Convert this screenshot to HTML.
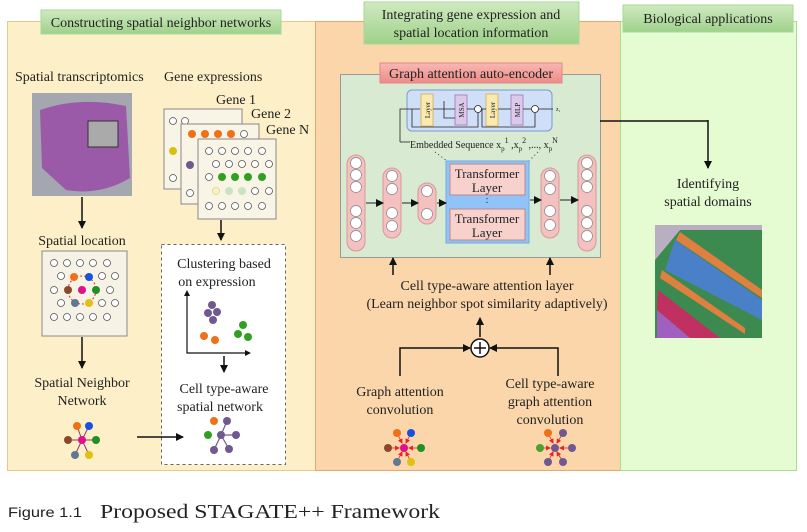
<!DOCTYPE html>
<html><head><meta charset="utf-8"><style>
body{margin:0;background:#fff;width:807px;height:532px;overflow:hidden}
svg{display:block}
text{font-family:"Liberation Serif",serif;fill:#222}
</style></head><body>
<svg width="807" height="532" viewBox="0 0 807 532" xmlns="http://www.w3.org/2000/svg">
<defs>
<marker id="ar" markerWidth="8" markerHeight="8" refX="7" refY="4" orient="auto" markerUnits="userSpaceOnUse"><path d="M0,0 L8,4 L0,8 Z" fill="#111"/></marker>
<marker id="ar2" markerWidth="5" markerHeight="5" refX="4" refY="2.5" orient="auto" markerUnits="userSpaceOnUse"><path d="M0,0 L5,2.5 L0,5 Z" fill="#e22"/></marker>
<linearGradient id="gh" x1="0" y1="0" x2="0" y2="1"><stop offset="0" stop-color="#cfeac0"/><stop offset="1" stop-color="#9fd18a"/></linearGradient>
<linearGradient id="rh" x1="0" y1="0" x2="0" y2="1"><stop offset="0" stop-color="#f7b8b4"/><stop offset="1" stop-color="#ee8a86"/></linearGradient>
</defs>
<!-- panels -->
<rect x="7.5" y="21.5" width="308" height="449" fill="#fdefc8" stroke="#e8c98a"/>
<rect x="315.5" y="21.5" width="305" height="449" fill="#fad6aa" stroke="#e2a96a"/>
<rect x="620.5" y="21.5" width="176" height="449" fill="#e5fbd2" stroke="#a8dc90"/>
<!-- headers -->
<rect x="41" y="10" width="240" height="24" fill="url(#gh)" stroke="#a8d898"/>
<text x="161" y="27" font-size="14" text-anchor="middle">Constructing spatial neighbor networks</text>
<rect x="364" y="2" width="215" height="42" fill="url(#gh)" stroke="#a8d898"/>
<text x="471" y="19" font-size="14" text-anchor="middle">Integrating gene expression and</text>
<text x="471" y="37" font-size="14" text-anchor="middle">spatial location information</text>
<rect x="623" y="5" width="170" height="27" fill="url(#gh)" stroke="#a8d898"/>
<text x="708" y="23" font-size="14" text-anchor="middle">Biological applications</text>

<!-- LEFT -->
<text x="15" y="81" font-size="14">Spatial transcriptomics</text>
<text x="164" y="81" font-size="14">Gene expressions</text>
<rect x="32" y="93" width="100" height="103" fill="#a4a6b0"/>
<path d="M40,110 Q80,96 126,106 L130,178 Q100,196 66,190 L42,168 Z" fill="#9a5aa8"/>
<rect x="88" y="121" width="30" height="26" fill="#aaa" stroke="#333"/>
<line x1="82" y1="197" x2="82" y2="228" stroke="#111" stroke-width="1.5" marker-end="url(#ar)"/>
<text x="82" y="245" font-size="14" text-anchor="middle">Spatial location</text>
<rect x="42" y="251" width="85" height="85" fill="#f6f3e6" stroke="#888"/>
<g fill="#fff" stroke="#555" stroke-width="0.8">
<circle cx="54" cy="263" r="3.5"/><circle cx="67" cy="263" r="3.5"/><circle cx="80" cy="263" r="3.5"/><circle cx="93" cy="263" r="3.5"/><circle cx="107" cy="263" r="3.5"/>
<circle cx="61" cy="276" r="3.5"/><circle cx="102" cy="276" r="3.5"/><circle cx="115" cy="276" r="3.5"/>
<circle cx="54" cy="290" r="3.5"/><circle cx="110" cy="290" r="3.5"/>
<circle cx="61" cy="303" r="3.5"/><circle cx="102" cy="303" r="3.5"/><circle cx="115" cy="303" r="3.5"/>
<circle cx="54" cy="317" r="3.5"/><circle cx="67" cy="317" r="3.5"/><circle cx="80" cy="317" r="3.5"/><circle cx="93" cy="317" r="3.5"/><circle cx="107" cy="317" r="3.5"/>
</g>
<circle cx="82" cy="290" r="14" fill="none" stroke="#e22" stroke-dasharray="2,2"/>
<circle cx="74" cy="277" r="4" fill="#f07018"/><circle cx="89" cy="277" r="4" fill="#1850e0"/>
<circle cx="68" cy="290" r="4" fill="#8a4a2a"/><circle cx="82" cy="290" r="4" fill="#e0108a"/><circle cx="96" cy="290" r="4" fill="#209020"/>
<circle cx="75" cy="303" r="4" fill="#607890"/><circle cx="89" cy="303" r="4" fill="#e0c010"/>
<line x1="82" y1="337" x2="82" y2="368" stroke="#111" stroke-width="1.5" marker-end="url(#ar)"/>
<text x="82" y="387" font-size="14" text-anchor="middle">Spatial Neighbor</text>
<text x="82" y="405" font-size="14" text-anchor="middle">Network</text>
<g stroke="#8a3a6a" stroke-width="1">
<line x1="82" y1="440" x2="77" y2="426"/><line x1="82" y1="440" x2="89" y2="426"/><line x1="82" y1="440" x2="68" y2="440"/><line x1="82" y1="440" x2="96" y2="440"/><line x1="82" y1="440" x2="75" y2="455"/><line x1="82" y1="440" x2="89" y2="455"/></g>
<circle cx="77" cy="426" r="4" fill="#f07018"/><circle cx="89" cy="426" r="4" fill="#1850e0"/><circle cx="68" cy="440" r="4" fill="#8a4a2a"/><circle cx="82" cy="440" r="4" fill="#e0108a"/><circle cx="96" cy="440" r="4" fill="#209020"/><circle cx="75" cy="455" r="4" fill="#607890"/><circle cx="89" cy="455" r="4" fill="#e0c010"/>

<!-- gene cards -->
<text x="216" y="104" font-size="14">Gene 1</text>
<text x="251" y="118" font-size="14">Gene 2</text>
<text x="266" y="134" font-size="14">Gene N</text>
<rect x="164" y="109" width="78" height="80" fill="#f8f5e6" stroke="#888"/>
<g fill="#fff" stroke="#555" stroke-width="0.8"><circle cx="173" cy="121" r="3.5"/><circle cx="185" cy="121" r="3.5"/><circle cx="173" cy="178" r="3.5"/></g>
<circle cx="173" cy="151" r="4" fill="#d8c010"/>
<rect x="181" y="124" width="78" height="80" fill="#f8f5e6" stroke="#888"/>
<g fill="#f07018"><circle cx="192" cy="134" r="4"/><circle cx="205" cy="134" r="4"/><circle cx="218" cy="134" r="4"/><circle cx="231" cy="134" r="4"/></g>
<circle cx="244" cy="134" r="3.5" fill="#fff" stroke="#555" stroke-width="0.8"/>
<circle cx="190" cy="165" r="4" fill="#705890"/><circle cx="190" cy="193" r="3.5" fill="#fff" stroke="#555" stroke-width="0.8"/>
<rect x="198" y="139" width="78" height="80" fill="#f8f5e6" stroke="#888"/>
<g fill="#fff" stroke="#555" stroke-width="0.8">
<circle cx="209" cy="151" r="3.5"/><circle cx="222" cy="151" r="3.5"/><circle cx="235" cy="151" r="3.5"/><circle cx="248" cy="151" r="3.5"/><circle cx="262" cy="151" r="3.5"/>
<circle cx="216" cy="164" r="3.5"/><circle cx="229" cy="164" r="3.5"/><circle cx="242" cy="164" r="3.5"/><circle cx="255" cy="164" r="3.5"/><circle cx="269" cy="164" r="3.5"/>
<circle cx="209" cy="177" r="3.5"/>
<circle cx="255" cy="191" r="3.5"/><circle cx="269" cy="191" r="3.5"/>
<circle cx="209" cy="206" r="3.5"/><circle cx="222" cy="206" r="3.5"/><circle cx="235" cy="206" r="3.5"/><circle cx="248" cy="206" r="3.5"/><circle cx="262" cy="206" r="3.5"/>
</g>
<g fill="#30a020"><circle cx="222" cy="177" r="4"/><circle cx="235" cy="177" r="4"/><circle cx="248" cy="177" r="4"/><circle cx="262" cy="177" r="4"/></g>
<circle cx="216" cy="191" r="3.5" fill="#fbf0c8" stroke="#e0d080" stroke-width="0.8"/><circle cx="229" cy="191" r="4" fill="#c8e4c0"/><circle cx="242" cy="191" r="4" fill="#c8e4c0"/>
<line x1="221" y1="220" x2="221" y2="240" stroke="#111" stroke-width="1.5" marker-end="url(#ar)"/>
<rect x="161.5" y="244.5" width="124" height="220" fill="#fff" stroke="#666" stroke-dasharray="3,3"/>
<line x1="137" y1="437" x2="183" y2="437" stroke="#111" stroke-width="1.5" marker-end="url(#ar)"/>
<text x="224" y="268" font-size="14" text-anchor="middle">Clustering based</text>
<text x="217" y="286" font-size="14" text-anchor="middle">on expression</text>
<polyline points="187,294 187,353 248,353" fill="none" stroke="#111" stroke-width="1.2"/>
<path d="M184,296 L187,290 L190,296Z M245,350 L251,353 L245,356Z" fill="#111"/>
<g fill="#705890"><circle cx="212" cy="305" r="4"/><circle cx="208" cy="313" r="4"/><circle cx="217" cy="312" r="4"/><circle cx="213" cy="320" r="4"/></g>
<g fill="#f07018"><circle cx="204" cy="336" r="4"/><circle cx="215" cy="340" r="4"/></g>
<g fill="#30a020"><circle cx="243" cy="325" r="4"/><circle cx="238" cy="334" r="4"/><circle cx="248" cy="337" r="4"/></g>
<line x1="224" y1="356" x2="224" y2="372" stroke="#111" stroke-width="1.5" marker-end="url(#ar)"/>
<text x="224" y="393" font-size="14" text-anchor="middle">Cell type-aware</text>
<text x="220" y="411" font-size="14" text-anchor="middle">spatial network</text>
<g stroke="#705890" stroke-width="1.2"><line x1="221" y1="435" x2="227" y2="421"/><line x1="221" y1="435" x2="236" y2="435"/><line x1="221" y1="435" x2="214" y2="450"/><line x1="221" y1="435" x2="229" y2="449"/></g>
<circle cx="214" cy="421" r="4" fill="#f07018"/><circle cx="227" cy="421" r="4" fill="#705890"/><circle cx="208" cy="435" r="4" fill="#30a020"/><circle cx="221" cy="435" r="4" fill="#705890"/><circle cx="236" cy="435" r="4" fill="#705890"/><circle cx="214" cy="450" r="4" fill="#705890"/><circle cx="229" cy="449" r="4" fill="#705890"/>

<!-- MIDDLE -->
<rect x="340.5" y="74.5" width="260" height="183" fill="#d8ead2" stroke="#999"/>
<rect x="380" y="63" width="182" height="20" fill="url(#rh)" stroke="#e08888"/>
<text x="471" y="78" font-size="14" text-anchor="middle">Graph attention auto-encoder</text>
<rect x="407" y="90" width="145" height="41" rx="5" fill="#cfdff8" stroke="#7a9ad0"/>
<rect x="421" y="94" width="12" height="32" fill="#fbeab0" stroke="#d8b860"/>
<rect x="455" y="95" width="12" height="30" fill="#dcc8e8" stroke="#a888c0"/>
<rect x="486" y="94" width="12" height="32" fill="#fbeab0" stroke="#d8b860"/>
<rect x="511" y="95" width="12" height="30" fill="#dcc8e8" stroke="#a888c0"/>
<text transform="translate(430,110) rotate(-90)" font-size="7" text-anchor="middle">Layer</text>
<text transform="translate(464,110) rotate(-90)" font-size="7" text-anchor="middle">MSA</text>
<text transform="translate(495,110) rotate(-90)" font-size="7" text-anchor="middle">Layer</text>
<text transform="translate(520,110) rotate(-90)" font-size="7" text-anchor="middle">MLP</text>
<g stroke="#222" stroke-width="0.8" fill="none">
<circle cx="478" cy="109" r="3.5" fill="#fff"/><circle cx="535" cy="109" r="3.5" fill="#fff"/>
<polyline points="400,142 400,109 420,109"/><line x1="433" y1="109" x2="455" y2="109"/><polyline points="444,101 444,118 455,118"/><line x1="467" y1="109" x2="474" y2="109"/>
<line x1="482" y1="109" x2="486" y2="109"/><line x1="498" y1="109" x2="511" y2="109"/><line x1="523" y1="109" x2="531" y2="109"/><line x1="539" y1="109" x2="553" y2="109"/>
<polyline points="412,109 412,127 478,127 478,113"/><polyline points="482,109 482,127 535,127 535,113"/>
</g>
<text x="556" y="111" font-size="6">z₁</text>
<line x1="400" y1="142" x2="410" y2="142" stroke="#222" stroke-width="0.8"/>
<text x="410" y="148" font-size="10">Embedded Sequence x<tspan font-size="7" dy="3">p</tspan><tspan font-size="8" dy="-8">1</tspan><tspan dy="5"> ,x</tspan><tspan font-size="7" dy="3">p</tspan><tspan font-size="8" dy="-8">2</tspan><tspan dy="5"> ,..., x</tspan><tspan font-size="7" dy="3">p</tspan><tspan font-size="8" dy="-8">N</tspan></text>
<line x1="435" y1="152" x2="447" y2="161" stroke="#333" stroke-dasharray="1,3"/>
<line x1="538" y1="152" x2="529" y2="161" stroke="#333" stroke-dasharray="1,3"/>
<rect x="446" y="161" width="83" height="82" fill="#90c4f8" stroke="#70a8e0"/>
<rect x="450" y="164" width="75" height="31" fill="#f8d0cc" stroke="#b88"/>
<text x="487" y="178" font-size="13" text-anchor="middle">Transformer</text>
<text x="487" y="192" font-size="13" text-anchor="middle">Layer</text>
<text x="487" y="203" font-size="10" text-anchor="middle">:</text>
<rect x="450" y="209" width="75" height="31" fill="#f8d0cc" stroke="#b88"/>
<text x="487" y="223" font-size="13" text-anchor="middle">Transformer</text>
<text x="487" y="237" font-size="13" text-anchor="middle">Layer</text>
<!-- neuron columns -->
<g fill="#f4c0c0" stroke="#d89898">
<rect x="347" y="155" width="18" height="96" rx="9"/>
<rect x="383" y="168" width="18" height="70" rx="9"/>
<rect x="418" y="183" width="18" height="41" rx="9"/>
<rect x="541" y="168" width="18" height="70" rx="9"/>
<rect x="578" y="155" width="18" height="96" rx="9"/>
</g>
<g fill="#fff" stroke="#888" stroke-width="0.7">
<circle cx="356" cy="163" r="5.5"/><circle cx="356" cy="175" r="5.5"/><circle cx="356" cy="187" r="5.5"/><circle cx="356" cy="211" r="5.5"/><circle cx="356" cy="223" r="5.5"/><circle cx="356" cy="236" r="5.5"/>
<circle cx="392" cy="176" r="5.5"/><circle cx="392" cy="189" r="5.5"/><circle cx="392" cy="213" r="5.5"/><circle cx="392" cy="226" r="5.5"/>
<circle cx="427" cy="191" r="5.5"/><circle cx="427" cy="214" r="5.5"/>
<circle cx="550" cy="176" r="5.5"/><circle cx="550" cy="189" r="5.5"/><circle cx="550" cy="211" r="5.5"/><circle cx="550" cy="225" r="5.5"/>
<circle cx="587" cy="163" r="5.5"/><circle cx="587" cy="175" r="5.5"/><circle cx="587" cy="187" r="5.5"/><circle cx="587" cy="211" r="5.5"/><circle cx="587" cy="223" r="5.5"/><circle cx="587" cy="236" r="5.5"/>
</g>
<g stroke="#222" stroke-width="1" marker-end="url(#ar)">
<line x1="366" y1="203" x2="383" y2="203"/><line x1="402" y1="203" x2="418" y2="203"/><line x1="437" y1="203" x2="446" y2="203"/><line x1="530" y1="200" x2="541" y2="200"/><line x1="560" y1="200" x2="578" y2="200"/>
</g>
<line x1="600" y1="121" x2="708" y2="121" stroke="#111" stroke-width="1.5"/>
<line x1="708" y1="120" x2="708" y2="168" stroke="#111" stroke-width="1.5" marker-end="url(#ar)"/>
<line x1="393" y1="275" x2="393" y2="258" stroke="#111" stroke-width="1.5" marker-end="url(#ar)"/>
<line x1="550" y1="275" x2="550" y2="258" stroke="#111" stroke-width="1.5" marker-end="url(#ar)"/>
<text x="487" y="290" font-size="14" text-anchor="middle">Cell type-aware attention layer</text>
<text x="487" y="308" font-size="14" text-anchor="middle">(Learn neighbor spot similarity adaptively)</text>
<line x1="480" y1="337" x2="480" y2="318" stroke="#111" stroke-width="1.5" marker-end="url(#ar)"/>
<circle cx="480" cy="348" r="9" fill="#fff" stroke="#111" stroke-width="1.5"/>
<path d="M474,348 H486 M480,342 V354" stroke="#111" stroke-width="1.5"/>
<polyline points="400,376 400,348 470,348" fill="none" stroke="#111" stroke-width="1.5" marker-end="url(#ar)"/>
<polyline points="558,376 558,348 490,348" fill="none" stroke="#111" stroke-width="1.5" marker-end="url(#ar)"/>
<text x="400" y="396" font-size="14" text-anchor="middle">Graph attention</text>
<text x="400" y="414" font-size="14" text-anchor="middle">convolution</text>
<text x="550" y="388" font-size="14" text-anchor="middle">Cell type-aware</text>
<text x="550" y="406" font-size="14" text-anchor="middle">graph attention</text>
<text x="550" y="424" font-size="14" text-anchor="middle">convolution</text>
<g stroke="#e22" stroke-width="0.8" marker-end="url(#ar2)">
<line x1="397" y1="433" x2="402" y2="443"/><line x1="411" y1="433" x2="406" y2="443"/><line x1="388" y1="448" x2="399" y2="448"/><line x1="421" y1="448" x2="409" y2="448"/><line x1="397" y1="462" x2="402" y2="452"/><line x1="411" y1="462" x2="406" y2="452"/>
<line x1="548" y1="433" x2="553" y2="443"/><line x1="563" y1="433" x2="557" y2="443"/><line x1="541" y1="448" x2="550" y2="448"/><line x1="572" y1="448" x2="560" y2="448"/><line x1="548" y1="462" x2="553" y2="452"/><line x1="563" y1="462" x2="557" y2="452"/>
</g>
<circle cx="397" cy="433" r="4" fill="#f07018"/><circle cx="411" cy="433" r="4" fill="#1850e0"/><circle cx="388" cy="448" r="4" fill="#8a4a2a"/><circle cx="404" cy="448" r="4" fill="#e0108a"/><circle cx="421" cy="448" r="4" fill="#209020"/><circle cx="397" cy="462" r="4" fill="#607890"/><circle cx="411" cy="462" r="4" fill="#e0c010"/>
<circle cx="548" cy="433" r="4" fill="#f07018"/><circle cx="563" cy="433" r="4" fill="#705890"/><circle cx="540" cy="448" r="4" fill="#50a030"/><circle cx="555" cy="448" r="4" fill="#705890"/><circle cx="572" cy="448" r="4" fill="#705890"/><circle cx="548" cy="462" r="4" fill="#705890"/><circle cx="563" cy="462" r="4" fill="#705890"/>

<!-- RIGHT -->
<text x="708" y="188" font-size="14" text-anchor="middle">Identifying</text>
<text x="708" y="206" font-size="14" text-anchor="middle">spatial domains</text>
<rect x="655" y="225" width="107" height="113" fill="#b8b0c0"/>
<polygon points="680,230 762,230 762,338 655,338 655,260" fill="#3c8a50"/>
<polygon points="675,240 762,300 762,320 665,270" fill="#4a80c8"/>
<polygon points="680,232 762,290 762,298 676,240" fill="#e08040"/>
<polygon points="662,270 745,328 745,334 660,278" fill="#e08040"/>
<polygon points="658,290 720,338 690,338 657,310" fill="#c03060"/>
<polygon points="657,310 690,338 657,338" fill="#a060c0"/>
<!-- caption -->
<text x="8" y="517" font-size="14" textLength="74" lengthAdjust="spacingAndGlyphs" style="font-family:'Liberation Sans',sans-serif">Figure 1.1</text>
<text x="100" y="518" font-size="20" textLength="340" lengthAdjust="spacingAndGlyphs">Proposed STAGATE++ Framework</text>
</svg>
</body></html>
